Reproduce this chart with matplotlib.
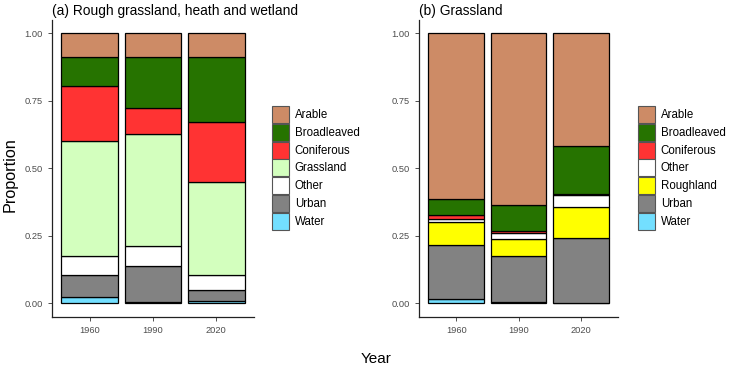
import numpy as np
from matplotlib import pyplot as plt
from matplotlib.patches import Patch

plt.rcParams['font.family'] = ['Liberation Sans', 'DejaVu Sans']

years = ['1960', '1990', '2020']

# Panel (a): rough grassland, heath and wetland
rough_cats = ['Arable', 'Broadleaved', 'Coniferous', 'Grassland', 'Other', 'Urban', 'Water']
rough_vals = {
    'Water':       [0.025, 0.007, 0.011],
    'Urban':       [0.080, 0.133, 0.039],
    'Other':       [0.071, 0.074, 0.055],
    'Grassland':   [0.426, 0.413, 0.345],
    'Coniferous':  [0.203, 0.095, 0.222],
    'Broadleaved': [0.105, 0.191, 0.238],
    'Arable':      [0.090, 0.087, 0.090],
}

# Panel (b): grassland
grass_cats = ['Arable', 'Broadleaved', 'Coniferous', 'Other', 'Roughland', 'Urban', 'Water']
grass_vals = {
    'Water':       [0.018, 0.005, 0.003],
    'Urban':       [0.197, 0.171, 0.239],
    'Roughland':   [0.086, 0.064, 0.116],
    'Other':       [0.011, 0.020, 0.043],
    'Coniferous':  [0.015, 0.009, 0.002],
    'Broadleaved': [0.059, 0.095, 0.178],
    'Arable':      [0.614, 0.636, 0.419],
}

colours = {
    'Arable': '#CD8B66',
    'Broadleaved': '#267300',
    'Coniferous': '#FF3333',
    'Grassland': '#D3FFBE',
    'Other': '#FFFFFF',
    'Roughland': '#FFFF00',
    'Urban': '#828282',
    'Water': '#73DFFF',
}

W, H = 731, 367
fig = plt.figure(figsize=(W / 100, H / 100), dpi=100)


def px_axes(x0, x1, y0, y1):
    """Axes from pixel box (top-left origin)."""
    return fig.add_axes([x0 / W, 1 - y1 / H, (x1 - x0) / W, (y1 - y0) / H])


def stacked(ax, cats, vals, title, legend_x):
    x = np.arange(1, len(years) + 1)
    bottom = np.zeros(len(years))
    # stack from the last category (bottom) to the first (top)
    for cat in reversed(cats):
        v = np.array(vals[cat])
        ax.bar(x, v, bottom=bottom, width=0.9, color=colours[cat],
               edgecolor='black', linewidth=0.9)
        bottom += v
    ax.set_xlim(0.4, 3.6)
    ax.set_ylim(-0.05, 1.05)
    ax.set_xticks(x)
    ax.set_xticklabels(years)
    ax.set_yticks([0, 0.25, 0.5, 0.75, 1.0])
    ax.set_yticklabels(['0.00', '0.25', '0.50', '0.75', '1.00'])
    ax.tick_params(colors='#333333', labelcolor='#4D4D4D', labelsize=6.7,
                   length=3, width=0.6)
    for side in ['top', 'right']:
        ax.spines[side].set_visible(False)
    for side in ['left', 'bottom']:
        ax.spines[side].set_linewidth(0.9)
        ax.spines[side].set_color('#222222')
    ax.set_title(title, loc='left', fontsize=9.9, pad=3.5, x=0.0)

    handles = [Patch(facecolor=colours[c], edgecolor='#555555', linewidth=0.8) for c in cats]
    fig.legend(handles, cats, loc='upper left',
               bbox_to_anchor=(legend_x / W, 1 - 106 / H),
               frameon=False, fontsize=8.3, handlelength=1.48, handleheight=1.9,
               labelspacing=0.06, handletextpad=0.5, borderpad=0, borderaxespad=0)


ax1 = px_axes(52, 254, 19.5, 317)
stacked(ax1, rough_cats, rough_vals, '(a) Rough grassland, heath and wetland', 272)

ax2 = px_axes(419, 618, 19.5, 317)
stacked(ax2, grass_cats, grass_vals, '(b) Grassland', 638)

fig.text(10 / W, 1 - 175 / H, 'Proportion', rotation=90, ha='center', va='center', fontsize=11.7)
fig.text(376 / W, 1 - 359 / H, 'Year', ha='center', va='center', fontsize=11)

plt.savefig('out.png', dpi=100)
